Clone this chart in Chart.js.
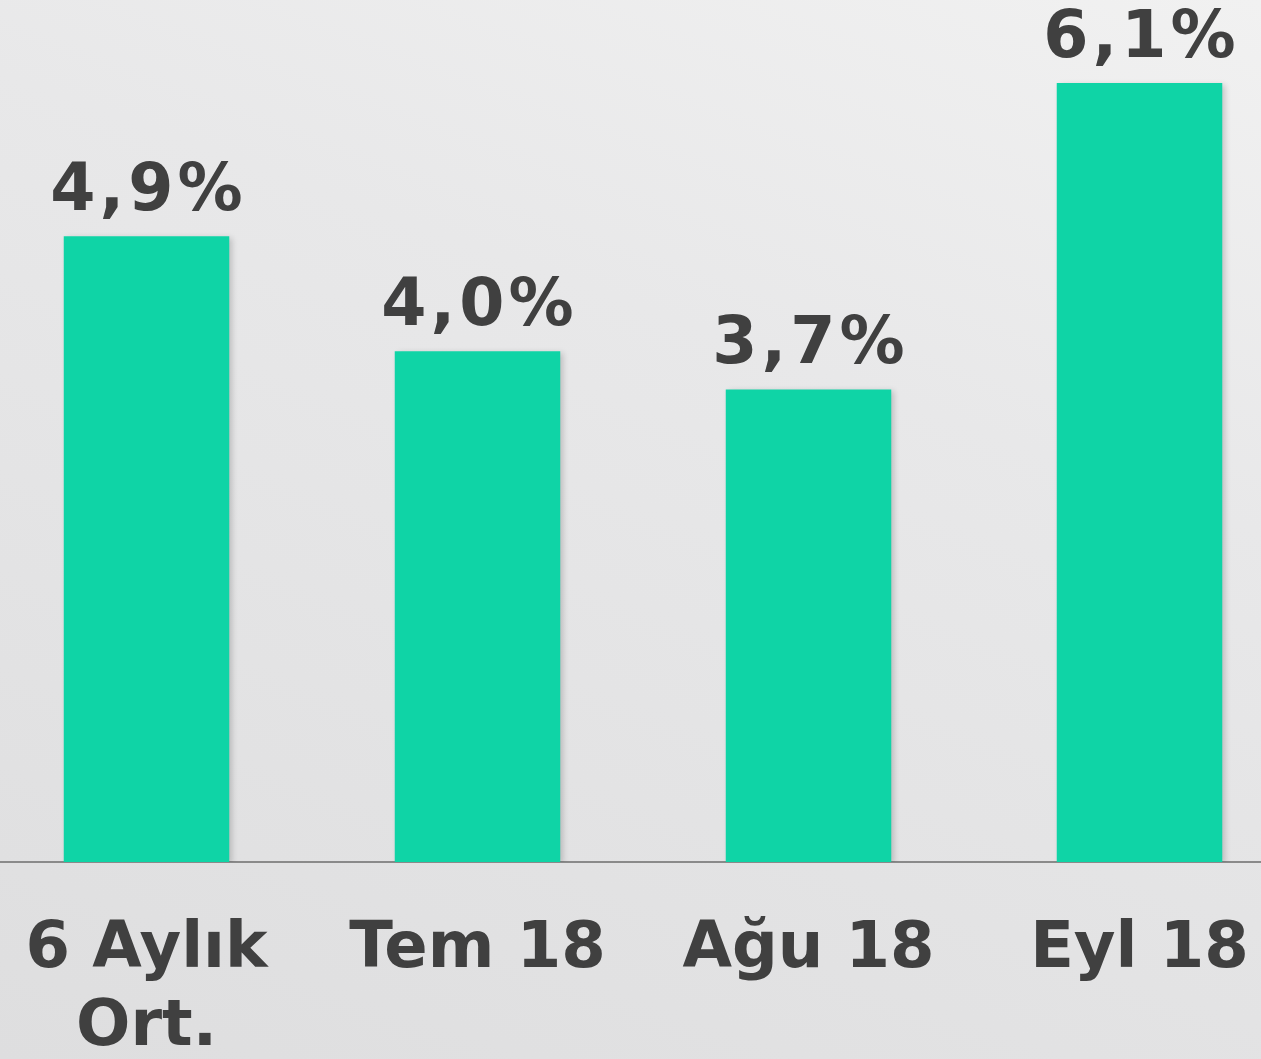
<!DOCTYPE html>
<html>
<head>
<meta charset="utf-8">
<script src="https://cdn.jsdelivr.net/npm/chart.js@4/dist/chart.umd.min.js"></script>
<style>
  html, body {
    margin: 0;
    padding: 0;
    width: 1261px;
    height: 1059px;
    overflow: hidden;
  }
  body {
    position: relative;
    background: linear-gradient(200deg, #f1f1f1 0%, #e8e8e9 35%, #dededf 100%);
  }
  #chart {
    position: absolute;
    left: -19px;
    top: 0;
  }
</style>
</head>
<body>
<canvas id="chart" width="1324" height="1059"></canvas>
<script>
const categories = [['6 Aylık', 'Ort.'], 'Tem 18', 'Ağu 18', 'Eyl 18'];
const values = [4.9, 4.0, 3.7, 6.1];

const barColor = '#0fd4a6';
const textColor = '#404040';
const fontFamily = '"DejaVu Sans", Verdana, sans-serif';

// draws "4,9%" style labels above each bar
const valueLabels = {
  id: 'valueLabels',
  afterDatasetsDraw(chart) {
    const ctx = chart.ctx;
    const meta = chart.getDatasetMeta(0);
    ctx.save();
    ctx.font = `bold 65px ${fontFamily}`;
    ctx.letterSpacing = '4px';
    ctx.fillStyle = textColor;
    ctx.textAlign = 'center';
    ctx.textBaseline = 'alphabetic';
    meta.data.forEach((bar, i) => {
      const label = values[i].toFixed(1).replace('.', ',') + '%';
      ctx.fillText(label, bar.x + 2, bar.y - 26);
    });
    ctx.restore();
  }
};

// soft shadow behind the bars
const barShadow = {
  id: 'barShadow',
  beforeDatasetsDraw(chart) {
    const ctx = chart.ctx;
    ctx.save();
    ctx.shadowColor = 'rgba(0, 0, 0, 0.18)';
    ctx.shadowBlur = 6;
    ctx.shadowOffsetX = 3;
    ctx.shadowOffsetY = 2;
  },
  afterDatasetsDraw(chart) {
    chart.ctx.restore();
  }
};

new Chart(document.getElementById('chart'), {
  type: 'bar',
  data: {
    labels: categories,
    datasets: [{
      data: values,
      backgroundColor: barColor,
      borderWidth: 0,
      categoryPercentage: 1,
      barPercentage: 0.5
    }]
  },
  options: {
    responsive: false,
    animation: false,
    layout: { padding: 0 },
    plugins: {
      legend: { display: false },
      tooltip: { enabled: false }
    },
    scales: {
      y: {
        display: false,
        min: 0,
        max: 6.75
      },
      x: {
        grid: { display: false, drawTicks: false },
        border: { display: true, color: '#8a8a8a', width: 2 },
        ticks: {
          color: textColor,
          padding: 49,
          maxRotation: 0,
          autoSkip: false,
          font: { family: fontFamily, size: 64, weight: 'bold', lineHeight: 1.22 }
        },
        afterFit(scale) {
          // keep the plot full width and the axis line at y=862
          scale.paddingLeft = 0;
          scale.paddingRight = 0;
          scale.height = 197;
        }
      }
    }
  },
  plugins: [barShadow, valueLabels]
});
</script>
</body>
</html>
